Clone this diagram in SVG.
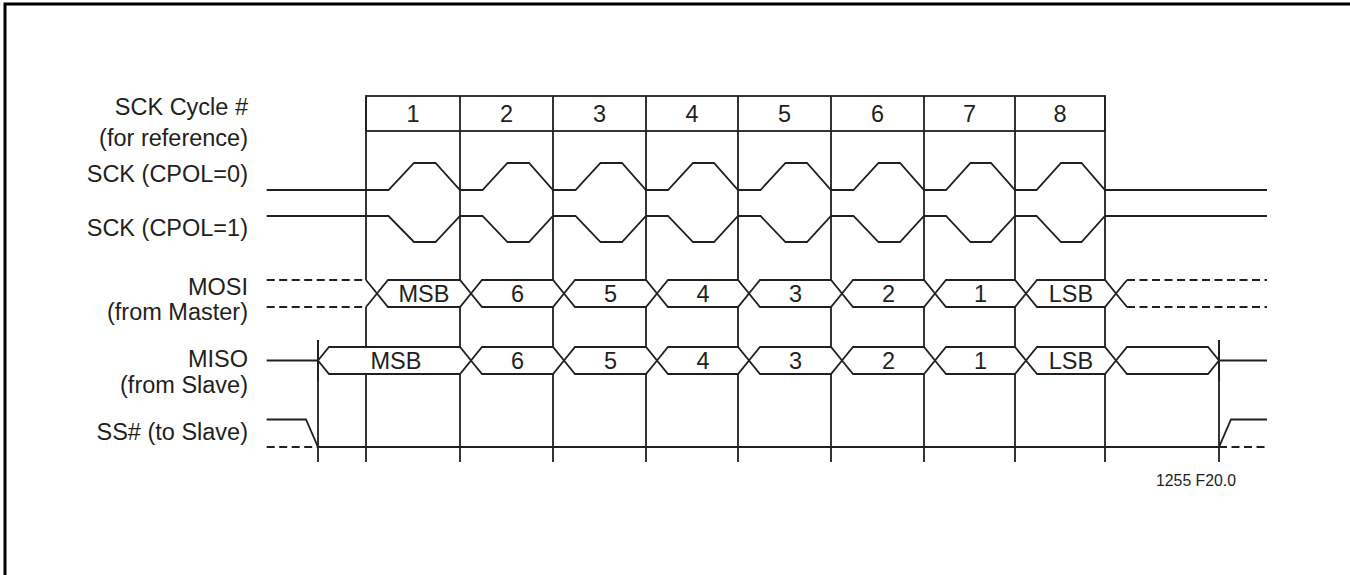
<svg xmlns="http://www.w3.org/2000/svg" width="1350" height="575" viewBox="0 0 1350 575">
<style>
  .ln { fill: none; stroke: #231f20; stroke-width: 1.8; stroke-linejoin: miter; }
  .bus { fill: #fff; stroke: #231f20; stroke-width: 1.8; }
  .dash { fill: none; stroke: #231f20; stroke-width: 1.8; stroke-dasharray: 8 4.5; }
  .lbl { font-family: "Liberation Sans", Arial, Helvetica, sans-serif; font-size: 23.5px; fill: #231f20; }
  .r { text-anchor: end; }
  .c { text-anchor: middle; }
</style>
<rect x="0" y="0" width="1350" height="575" fill="#fff"/>
<path d="M5,575 V4 H1350" fill="none" stroke="#000" stroke-width="3"/>

<g id="labels" class="lbl">
  <text class="lbl r" x="248" y="114.5">SCK Cycle #</text>
  <text class="lbl r" x="248" y="146">(for reference)</text>
  <text class="lbl r" x="248" y="182">SCK (CPOL=0)</text>
  <text class="lbl r" x="248" y="236">SCK (CPOL=1)</text>
  <text class="lbl r" x="248" y="294.5">MOSI</text>
  <text class="lbl r" x="248" y="320">(from Master)</text>
  <text class="lbl r" x="248" y="367">MISO</text>
  <text class="lbl r" x="248" y="393">(from Slave)</text>
  <text class="lbl r" x="248" y="440">SS# (to Slave)</text>
</g>

<g id="grid">
  <rect class="ln" x="366" y="96" width="739" height="35"/>
  <path class="ln" d="M366,96 V280 M366,307 V347 M366,374 V462
    M460,96 V280 M460,307 V347 M460,374 V462
    M553,96 V280 M553,307 V347 M553,374 V462
    M646,96 V280 M646,307 V347 M646,374 V462
    M738,96 V280 M738,307 V347 M738,374 V462
    M831,96 V280 M831,307 V347 M831,374 V462
    M924,96 V280 M924,307 V347 M924,374 V462
    M1015,96 V280 M1015,307 V347 M1015,374 V462
    M1105,96 V280 M1105,307 V347 M1105,374 V462
    M318,340 V462 M1219,340 V462"/>
  <g class="lbl c">
    <text class="lbl c" x="413" y="121.5">1</text>
    <text class="lbl c" x="506.5" y="121.5">2</text>
    <text class="lbl c" x="599.5" y="121.5">3</text>
    <text class="lbl c" x="692" y="121.5">4</text>
    <text class="lbl c" x="784.5" y="121.5">5</text>
    <text class="lbl c" x="877.5" y="121.5">6</text>
    <text class="lbl c" x="969.5" y="121.5">7</text>
    <text class="lbl c" x="1060" y="121.5">8</text>
  </g>
</g>

<g id="sck-cpol0">
  <path class="ln" d="M266.7,190 H388.5 L414,163 H435.5 L460,190 H482.5 L507.5,163 H529 L553,190 H575.5 L600.5,163 H622 L646,190 H668 L693,163 H714 L738,190 H760.5 L785.5,163 H807 L831,190 H853.5 L878.5,163 H900 L924,190 H946 L970.5,163 H991 L1015,190 H1036.5 L1061,163 H1081.5 L1105,190 H1267"/>
</g>
<g id="sck-cpol1">
  <path class="ln" d="M266.7,216 H388.5 L414,242 H435.5 L460,216 H482.5 L507.5,242 H529 L553,216 H575.5 L600.5,242 H622 L646,216 H668 L693,242 H714 L738,216 H760.5 L785.5,242 H807 L831,216 H853.5 L878.5,242 H900 L924,216 H946 L970.5,242 H991 L1015,216 H1036.5 L1061,242 H1081.5 L1105,216 H1267"/>
</g>

<g id="mosi">
  <path class="dash" d="M266.7,280 H366 M266.7,307 H366 M1127,280 H1267 M1127,307 H1267"/>
  <path class="ln" d="M366,280 L377,293.5 L366,307 M1127,280 L1116,293.5 L1127,307"/>
  <path class="bus" d="M377,293.5 L388,280 H460 L471,293.5 L460,307 H388 Z"/>
  <path class="bus" d="M471,293.5 L482,280 H553 L564,293.5 L553,307 H482 Z"/>
  <path class="bus" d="M564,293.5 L575,280 H646 L657,293.5 L646,307 H575 Z"/>
  <path class="bus" d="M657,293.5 L668,280 H738 L749,293.5 L738,307 H668 Z"/>
  <path class="bus" d="M749,293.5 L760,280 H831 L842,293.5 L831,307 H760 Z"/>
  <path class="bus" d="M842,293.5 L853,280 H924 L935,293.5 L924,307 H853 Z"/>
  <path class="bus" d="M935,293.5 L946,280 H1015 L1026,293.5 L1015,307 H946 Z"/>
  <path class="bus" d="M1026,293.5 L1037,280 H1105 L1116,293.5 L1105,307 H1037 Z"/>
  <text class="lbl c" x="424" y="301.8">MSB</text>
  <text class="lbl c" x="517.5" y="301.8">6</text>
  <text class="lbl c" x="610.5" y="301.8">5</text>
  <text class="lbl c" x="703" y="301.8">4</text>
  <text class="lbl c" x="795.5" y="301.8">3</text>
  <text class="lbl c" x="888.5" y="301.8">2</text>
  <text class="lbl c" x="980.5" y="301.8">1</text>
  <text class="lbl c" x="1071" y="301.8">LSB</text>
</g>

<g id="miso">
  <path class="ln" d="M266.7,360.5 H318 M1219,360.5 H1267"/>
  <path class="bus" d="M318,360.5 L329,347 H460 L471,360.5 L460,374 H329 Z"/>
  <path class="bus" d="M471,360.5 L482,347 H553 L564,360.5 L553,374 H482 Z"/>
  <path class="bus" d="M564,360.5 L575,347 H646 L657,360.5 L646,374 H575 Z"/>
  <path class="bus" d="M657,360.5 L668,347 H738 L749,360.5 L738,374 H668 Z"/>
  <path class="bus" d="M749,360.5 L760,347 H831 L842,360.5 L831,374 H760 Z"/>
  <path class="bus" d="M842,360.5 L853,347 H924 L935,360.5 L924,374 H853 Z"/>
  <path class="bus" d="M935,360.5 L946,347 H1015 L1026,360.5 L1015,374 H946 Z"/>
  <path class="bus" d="M1026,360.5 L1037,347 H1105 L1116,360.5 L1105,374 H1037 Z"/>
  <path class="bus" d="M1116,360.5 L1127,347 H1208 L1219,360.5 L1208,374 H1127 Z"/>
  <path class="ln" d="M318,340 V381 M1219,340 V381"/>
  <text class="lbl c" x="396" y="368.8">MSB</text>
  <text class="lbl c" x="517.5" y="368.8">6</text>
  <text class="lbl c" x="610.5" y="368.8">5</text>
  <text class="lbl c" x="703" y="368.8">4</text>
  <text class="lbl c" x="795.5" y="368.8">3</text>
  <text class="lbl c" x="888.5" y="368.8">2</text>
  <text class="lbl c" x="980.5" y="368.8">1</text>
  <text class="lbl c" x="1071" y="368.8">LSB</text>
</g>

<g id="ss">
  <path class="dash" d="M266.7,447 H318 M1219,447 H1267"/>
  <path class="ln" d="M266.7,419.5 H306 L318,447 H1219 L1231,419.5 H1267"/>
</g>

<text id="figid" x="1196" y="486" text-anchor="middle" font-family="Liberation Sans, Arial, sans-serif" font-size="15.8" fill="#231f20">1255 F20.0</text>
</svg>
